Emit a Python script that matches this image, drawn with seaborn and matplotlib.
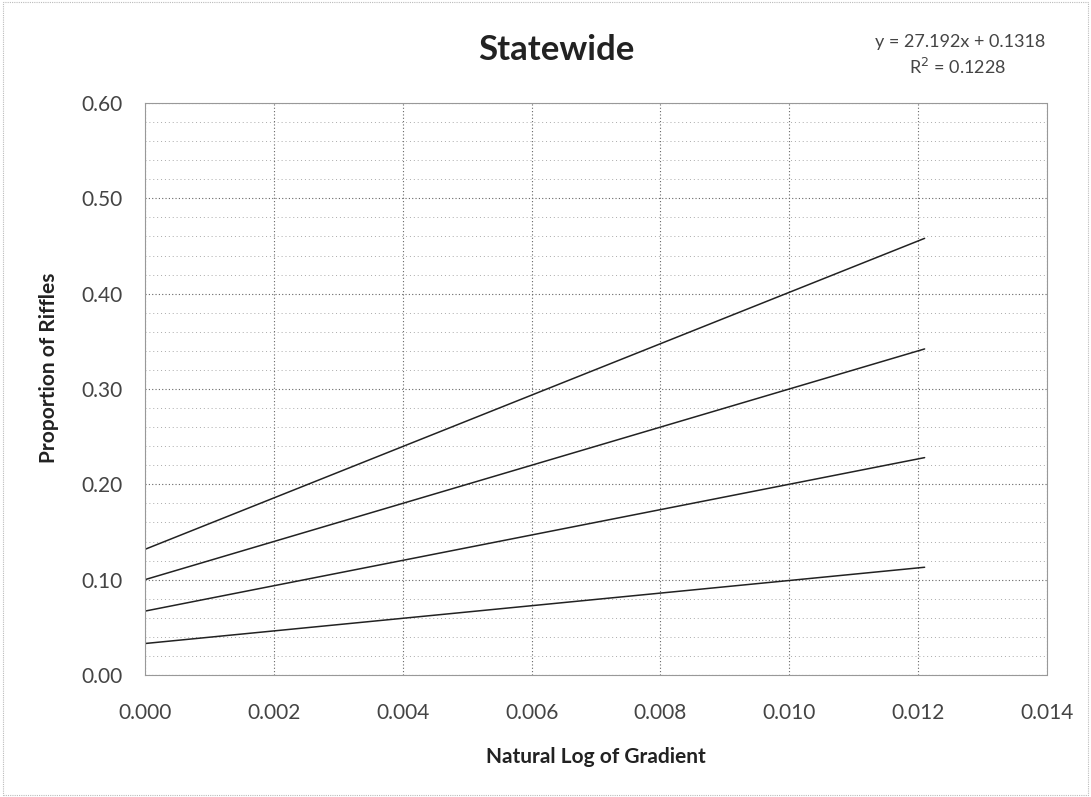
import seaborn as sns
import matplotlib.pyplot as plt
import matplotlib.patches as mpatches
from matplotlib.ticker import MultipleLocator
import pandas as pd

# gradient values at the start and end of each fitted line
x_vals = [0.0, 0.0121]
line_names = ["line1", "line2", "line3", "line4"]
y_start = [0.1318, 0.100, 0.067, 0.033]
y_end = [0.458, 0.342, 0.228, 0.113]

x_ticks = [0.000, 0.002, 0.004, 0.006, 0.008, 0.010, 0.012, 0.014]
y_ticks = [0.00, 0.10, 0.20, 0.30, 0.40, 0.50, 0.60]

rows = []
for name, y0, y1 in zip(line_names, y_start, y_end):
    rows.append({"x": x_vals[0], "y": y0, "line": name})
    rows.append({"x": x_vals[1], "y": y1, "line": name})
df = pd.DataFrame(rows)

sns.set_style("white")
plt.rcParams['font.family'] = ['Lato', 'DejaVu Sans']

fig = plt.figure(figsize=(10.91, 7.97), dpi=100)
ax = fig.add_axes([0.1329, 0.1531, 0.8268, 0.7177])

sns.lineplot(data=df, x="x", y="y", units="line", estimator=None,
             color="#222222", linewidth=1.1, ax=ax, legend=False)

ax.set_xlim(0, 0.014)
ax.set_ylim(0, 0.60)
ax.set_xticks(x_ticks)
ax.set_yticks(y_ticks)
ax.set_xticklabels([f"{v:.3f}" for v in x_ticks], fontsize=15, color="#444444")
ax.set_yticklabels([f"{v:.2f}" for v in y_ticks], fontsize=15, color="#444444")
ax.yaxis.set_minor_locator(MultipleLocator(0.02))
ax.grid(which="major", linestyle=(0, (1, 2)), color="#666666", linewidth=0.8)
ax.grid(which="minor", axis="y", linestyle=(0, (1, 3)), color="#aaaaaa", linewidth=0.7)
ax.tick_params(axis="y", length=0, pad=16)
ax.tick_params(axis="x", length=0, pad=20)
for s in ax.spines.values():
    s.set_color("#999999")
    s.set_linestyle((0, (1, 1)))
    s.set_linewidth(0.8)

ax.set_xlabel("Natural Log of Gradient", fontsize=15, fontweight="bold",
              color="#222222", va="center")
ax.xaxis.set_label_coords(0.5, -0.143)
ax.set_ylabel("Proportion of Riffles", fontsize=15, fontweight="bold",
              color="#222222", va="center")
ax.yaxis.set_label_coords(-0.106, 0.537)

fig.text(0.51, 1 - 50 / 797, "Statewide", ha="center", va="center",
         fontsize=25, fontweight="bold", color="#222222")
fig.text(0.88, 1 - 42 / 797, "y = 27.192x + 0.1318", ha="center", va="center",
         fontsize=13, color="#444444")
fig.text(0.878, 1 - 67 / 797, "R$^2$ = 0.1228", ha="center", va="center",
         fontsize=13, color="#444444")

# faint border around the chart area
fig.patches.append(mpatches.Rectangle((0.003, 0.003), 0.994, 0.994, transform=fig.transFigure,
                                      fill=False, edgecolor="#bbbbbb", linewidth=0.8,
                                      linestyle=(0, (1, 1))))

fig.savefig("out.png", dpi=100)
